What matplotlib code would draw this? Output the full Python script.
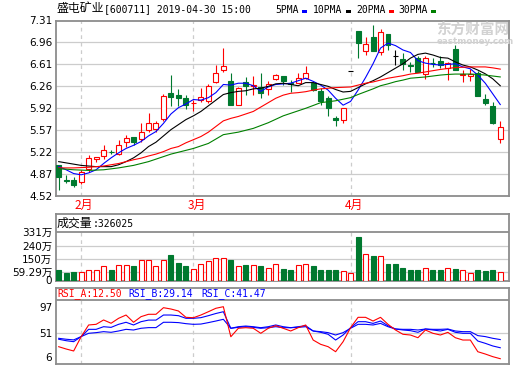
import numpy as np
import matplotlib
matplotlib.use("Agg")
import matplotlib.pyplot as plt
from matplotlib.patches import Rectangle

plt.rcParams['font.family'] = ['DejaVu Sans', 'Noto Sans CJK SC']
CJK = ['Noto Sans CJK SC', 'DejaVu Sans']
MONO = 'DejaVu Sans Mono'

# daily candles, 2019-01-29 .. 2019-04-30
open_ = [5.00, 4.77, 4.76, 4.74, 4.94, 5.10, 5.15, 5.22, 5.18, 5.37,
         5.45, 5.42, 5.56, 5.58, 5.74, 6.15, 6.12, 6.07, 5.99, 6.04,
         6.03, 6.33, 6.52, 6.35, 5.97, 6.33, 6.26, 6.25, 6.22, 6.37,
         6.42, 6.31, 6.32, 6.39, 6.32, 6.19, 6.08, 5.76, 5.72, 6.50,
         7.15, 6.83, 7.04, 6.80, 7.09, 6.74, 6.69, 6.60, 6.71, 6.46,
         6.64, 6.66, 6.55, 6.85, 6.44, 6.43, 6.47, 6.06, 5.95, 5.42]
high = [5.00, 4.85, 4.81, 4.93, 5.16, 5.14, 5.32, 5.25, 5.40, 5.48,
        5.46, 5.68, 5.84, 5.71, 6.14, 6.44, 6.22, 6.12, 6.04, 6.24,
        6.29, 6.60, 6.87, 6.48, 6.25, 6.41, 6.42, 6.47, 6.35, 6.45,
        6.43, 6.36, 6.47, 6.58, 6.33, 6.24, 6.10, 5.79, 5.91, 6.50,
        7.15, 7.05, 7.24, 7.17, 7.09, 6.84, 6.79, 6.65, 6.75, 6.75,
        6.72, 6.75, 6.65, 6.92, 6.52, 6.53, 6.50, 6.14, 6.01, 5.70]
low = [4.61, 4.72, 4.65, 4.71, 4.90, 5.05, 5.10, 5.18, 5.16, 5.30,
       5.32, 5.38, 5.53, 5.54, 5.70, 5.94, 5.95, 5.90, 5.87, 6.01,
       5.99, 6.32, 6.49, 5.96, 5.96, 6.12, 6.12, 6.07, 6.12, 6.36,
       6.28, 6.17, 6.31, 6.38, 6.19, 5.96, 5.78, 5.63, 5.67, 6.50,
       6.72, 6.76, 6.82, 6.76, 6.84, 6.60, 6.52, 6.49, 6.49, 6.37,
       6.57, 6.56, 6.36, 6.52, 6.33, 6.35, 6.10, 5.97, 5.66, 5.35]
close = [4.82, 4.75, 4.69, 4.90, 5.12, 5.13, 5.24, 5.21, 5.32, 5.44,
         5.38, 5.54, 5.67, 5.67, 6.11, 6.09, 6.07, 5.97, 6.00, 6.09,
         6.27, 6.48, 6.59, 5.96, 6.24, 6.27, 6.28, 6.16, 6.29, 6.44,
         6.35, 6.30, 6.39, 6.47, 6.20, 6.03, 5.92, 5.72, 5.91, 6.50,
         6.95, 6.93, 6.83, 7.12, 6.92, 6.74, 6.61, 6.59, 6.49, 6.71,
         6.63, 6.60, 6.64, 6.52, 6.46, 6.46, 6.11, 5.99, 5.67, 5.61]

ma5 = [4.98, 4.93, 4.87, 4.85, 4.88, 4.93, 5.03, 5.12, 5.20, 5.27,
       5.32, 5.38, 5.47, 5.54, 5.67, 5.82, 5.92, 5.98, 6.05, 6.04,
       6.08, 6.16, 6.29, 6.28, 6.31, 6.31, 6.27, 6.18, 6.25, 6.29,
       6.30, 6.31, 6.35, 6.39, 6.34, 6.28, 6.20, 6.07, 5.96, 6.02,
       6.20, 6.40, 6.62, 6.87, 6.95, 6.91, 6.84, 6.80, 6.67, 6.63,
       6.61, 6.60, 6.61, 6.62, 6.57, 6.54, 6.44, 6.31, 6.14, 5.97]
ma10 = [5.06, 5.04, 5.02, 5.00, 4.99, 4.98, 4.98, 4.98, 5.01, 5.06,
        5.12, 5.20, 5.30, 5.37, 5.47, 5.57, 5.65, 5.73, 5.79, 5.86,
        5.95, 6.04, 6.13, 6.16, 6.18, 6.19, 6.22, 6.23, 6.26, 6.30,
        6.31, 6.29, 6.27, 6.32, 6.32, 6.29, 6.26, 6.21, 6.17, 6.18,
        6.24, 6.30, 6.35, 6.41, 6.48, 6.55, 6.62, 6.71, 6.77, 6.79,
        6.76, 6.72, 6.71, 6.65, 6.60, 6.57, 6.52, 6.46, 6.38, 6.27]
ma20 = [4.96, 4.96, 4.96, 4.965, 4.97, 4.98, 4.99, 5.01, 5.03, 5.06,
        5.09, 5.115, 5.15, 5.18, 5.22, 5.27, 5.30, 5.36, 5.41, 5.46,
        5.53, 5.62, 5.71, 5.75, 5.78, 5.82, 5.86, 5.93, 6.00, 6.07,
        6.12, 6.15, 6.16, 6.175, 6.20, 6.22, 6.23, 6.24, 6.245, 6.25,
        6.28, 6.31, 6.33, 6.36, 6.39, 6.41, 6.43, 6.456, 6.47, 6.49,
        6.51, 6.53, 6.545, 6.56, 6.565, 6.57, 6.57, 6.57, 6.555, 6.535]
ma30 = [4.945, 4.94, 4.93, 4.925, 4.92, 4.925, 4.93, 4.945, 4.96, 4.98,
        5.00, 5.03, 5.06, 5.10, 5.14, 5.18, 5.21, 5.24, 5.27, 5.31,
        5.35, 5.42, 5.49, 5.51, 5.53, 5.56, 5.59, 5.635, 5.68, 5.735,
        5.79, 5.83, 5.87, 5.91, 5.955, 6.00, 6.015, 6.03, 6.055, 6.08,
        6.13, 6.175, 6.22, 6.27, 6.30, 6.335, 6.36, 6.39, 6.40, 6.41,
        6.425, 6.44, 6.45, 6.456, 6.456, 6.456, 6.45, 6.44, 6.425, 6.41]

# volume, in 万
volume = [69, 51, 55, 55, 69, 69, 97, 69, 104, 104,
          97, 139, 143, 97, 143, 173, 120, 97, 76, 116,
          132, 157, 157, 139, 97, 104, 104, 97, 88, 116,
          81, 74, 109, 116, 97, 74, 74, 74, 65, 53,
          300, 185, 166, 166, 111, 111, 88, 69, 69, 88,
          74, 69, 88, 81, 74, 53, 69, 62, 69, 60]

rsi_a = [30.7, 27.2, 24.2, 45.8, 63.6, 64.6, 71.2, 66.2, 73.7, 78.7,
         67.7, 76.2, 79.8, 79.8, 89.8, 87.8, 84.8, 75.2, 74.6, 78.7,
         83.7, 88.9, 91.3, 45.8, 58.6, 59.5, 58.6, 51, 58.6, 62.5,
         58.6, 54.5, 59.5, 63.6, 40.8, 34.3, 30.7, 23.1, 38.3, 59.5,
         75.2, 75.2, 69.6, 75.2, 64.6, 56, 49.5, 48.4, 44.3, 56,
         51, 48.4, 52.5, 44.3, 40.8, 40.8, 23.1, 19.6, 15.6, 12.5]
rsi_b = [43.4, 42, 41, 46, 57, 57, 61, 60, 64.6, 67.7,
         63.6, 68.6, 71, 71, 78.7, 78.7, 77.7, 73.7, 73.7, 74.7,
         77.7, 81, 83.7, 58.6, 61, 62, 61, 59.5, 61, 63.6,
         61, 59.5, 61, 62.5, 54.5, 52.5, 49.5, 40.8, 48.4, 59.5,
         68.6, 68.6, 66, 69.6, 62.5, 57.5, 56, 55, 52.5, 57.5,
         56, 54.5, 57, 52.5, 51, 51, 39.3, 35.8, 31.8, 29.1]
rsi_c = [42, 39.8, 38.3, 46, 51, 52, 53.5, 52.5, 54.5, 57,
         56, 58.6, 59.6, 59.6, 67.7, 67.7, 67.2, 65.6, 64.6, 65,
         67.2, 69.6, 72.2, 58.6, 60, 61, 60, 58.6, 59.5, 61,
         59.5, 59.5, 60, 61, 54.5, 53.5, 52, 48.4, 52, 58.6,
         64.6, 64.6, 63.6, 66, 61, 57.5, 57, 57, 56, 57.5,
         57, 57, 57.5, 54.5, 53.5, 53.5, 47.5, 46, 43.4, 41.5]

month_idx = [3, 18, 39]
month_labels = ['2月', '3月', '4月']
price_labels = ['4.52', '4.87', '5.22', '5.57', '5.92', '6.26', '6.61', '6.96', '7.31']
vol_ticks = [0, 59.29, 150, 240, 331]
vol_labels = ['0', '59.29万', '150万', '240万', '331万']
rsi_ticks = [6, 51, 97]

RED = '#ff0000'
GREEN = '#00792f'
GRID = '#cccccc'
SPINE = '#8c8c8c'

W, H = 520, 365
fig = plt.figure(figsize=(W / 100, H / 100), dpi=100)


def rect(x0, y0, x1, y1):
    return [x0 / W, 1 - y1 / H, (x1 - x0) / W, (y1 - y0) / H]


def ftext(x, y, s, **kw):
    fig.text(x / W, 1 - y / H, s, va='center', ha='left', **kw)


def frame(a):
    for sp in a.spines.values():
        sp.set_color(SPINE)
        sp.set_linewidth(1.3)
    a.tick_params(length=0, labelsize=7.5, pad=2.5)
    a.set_xticks([])
    a.set_xlim(-0.4, 60.1)


x = np.arange(len(close))
o = np.array(open_)
c = np.array(close)
edge = np.where(c > o, RED, np.where(c < o, GREEN, 'black'))
face = np.where(c > o, 'white', edge)

# ---- price panel
ax = fig.add_axes(rect(55.7, 20.5, 508.5, 195.5))
frame(ax)
ax.set_ylim(4.52, 7.31)
yt = np.linspace(4.52, 7.31, 9)
ax.set_yticks(yt)
ax.set_yticklabels(price_labels)
for v in yt[1:-1]:
    ax.axhline(v, color=GRID, lw=0.9, zorder=0)
for m in month_idx:
    ax.axvline(m, color=GRID, ls=(0, (3, 3)), lw=0.9, zorder=0)
ax.vlines(x, low, high, colors=edge, lw=0.8, zorder=2)
ax.bar(x, np.abs(c - o), bottom=np.minimum(o, c), width=0.667,
       facecolor=face, edgecolor=edge, lw=0.8, zorder=3)
ax.plot(x, ma5, color='#0000ff', lw=0.8, zorder=4)
ax.plot(x, ma10, color='black', lw=0.8, zorder=4)
ax.plot(x, ma20, color=RED, lw=0.8, zorder=4)
ax.plot(x, ma30, color='#008000', lw=0.8, zorder=4)
for m, lab in zip(month_idx, month_labels):
    ax.text(m + 0.4, -0.055, lab, transform=ax.get_xaxis_transform(),
            ha='center', va='center', color=RED, fontsize=8.6, family=CJK)

# title and legend
ftext(56.5, 8.5, '盛屯矿业', fontsize=8.6, family=CJK)
ftext(104.5, 8.7, '[600711] 2019-04-30 15:00', fontsize=7, family=MONO)
legend = [('5PMA', 275, '#0000ff'), ('10PMA', 313.3, 'black'),
          ('20PMA', 356, RED), ('30PMA', 398.3, '#008000')]
for lab, lx, col in legend:
    ftext(lx, 10, lab, fontsize=7, family=MONO)
    rx0 = lx + 6 * len(lab) + 2.5
    fig.add_artist(Rectangle((rx0 / W, 1 - 12.5 / H), 5 / W, 3 / H,
                             transform=fig.transFigure, color=col, lw=0))

# watermark
ftext(436, 30, '东方财富网', fontsize=10.5, family=CJK, color='#d2d2d2',
      weight='bold', zorder=5)
ftext(437, 41.5, 'eastmoney.com', fontsize=6.3, color='#d2d2d2',
      weight='bold', zorder=5)

# ---- volume panel
vx = fig.add_axes(rect(55.7, 213.5, 508.5, 280.5))
frame(vx)
vscale = (280.5 - 232.3) / 331
vx.set_ylim(0, 331 + (232.3 - 213.5) / vscale)
vx.set_yticks(vol_ticks)
vx.set_yticklabels(vol_labels)
vx.axhline(331, color=SPINE, lw=1.3)
for v in vol_ticks[1:-1]:
    vx.axhline(v, color=GRID, lw=0.9, zorder=0)
vx.vlines(month_idx, 0, 331, colors=GRID, linestyles=(0, (3, 3)), lw=0.9, zorder=0)
prev = np.concatenate([[c[0]], c[:-1]])
vup = np.where(c != o, c > o, c >= prev)
vx.bar(x, volume, width=0.667, facecolor=np.where(vup, 'white', GREEN),
       edgecolor=np.where(vup, RED, GREEN), lw=0.8, zorder=3)
ftext(56.5, 223.5, '成交量', fontsize=8.6, family=CJK)
ftext(92.5, 223.8, ':326025', fontsize=7, family=MONO)

# ---- RSI panel
rx = fig.add_axes(rect(55.7, 287.7, 508.5, 364))
frame(rx)
rs = 0.66
rx.set_ylim(51 - (364 - 333.3) / rs, 51 + (333.3 - 287.7) / rs)
sep = 51 + (333.3 - 300) / rs
rx.set_yticks(rsi_ticks)
rx.set_yticklabels([str(t) for t in rsi_ticks])
labs = rx.get_yticklabels()
labs[0].set_va('bottom')
labs[2].set_va('top')
rx.axhline(sep, color=SPINE, lw=1.3)
rx.axhline(51, color=GRID, lw=0.9, zorder=0)
rx.vlines(month_idx, rx.get_ylim()[0], sep, colors=GRID, linestyles=(0, (3, 3)),
          lw=0.9, zorder=0)
rx.plot(x, rsi_c, color='#0000ff', lw=0.8)
rx.plot(x, rsi_b, color='#0000ff', lw=0.8)
rx.plot(x, rsi_a, color=RED, lw=0.8)
ftext(57, 293.8, 'RSI_A:12.50', fontsize=7, family=MONO, color=RED)
ftext(128.3, 293.8, 'RSI_B:29.14', fontsize=7, family=MONO, color='#0000ff')
ftext(201, 293.8, 'RSI_C:41.47', fontsize=7, family=MONO, color='#0000ff')

fig.savefig('out.png', dpi=100, facecolor='white')
